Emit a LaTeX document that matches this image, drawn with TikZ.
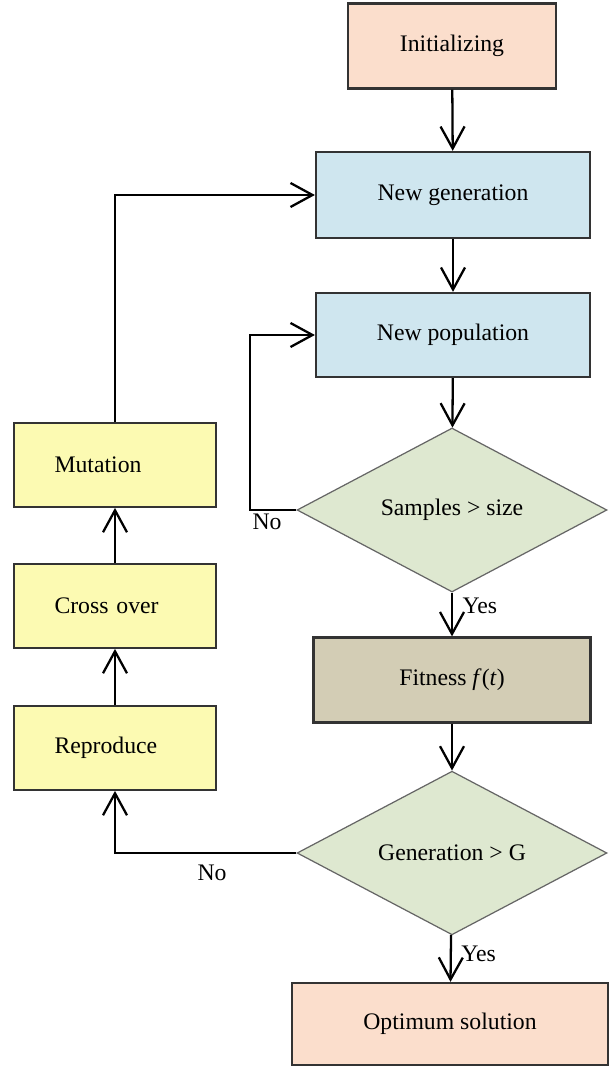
\documentclass[tikz,border=0pt]{standalone}
\usepackage{fontspec}
\setmainfont{Liberation Serif}
\usepackage{xcolor}
\usetikzlibrary{arrows.meta,positioning,shapes.geometric}

\definecolor{peach}{RGB}{251,222,204}
\definecolor{paleblue}{RGB}{207,230,239}
\definecolor{palegreen}{RGB}{222,232,208}
\definecolor{khaki}{RGB}{211,205,181}
\definecolor{paleyellow}{RGB}{252,250,178}

\tikzset{
  box/.style={draw=black!80,line width=1.3pt,inner sep=0pt,minimum height=1.7cm},
  endbox/.style={box,fill=peach},
  genbox/.style={box,fill=paleblue,minimum width=5.48cm},
  fitbox/.style={box,fill=khaki,minimum width=5.54cm},
  opbox/.style={box,fill=paleyellow,minimum width=4.04cm,minimum height=1.67cm,
    text width=2.42cm,align=left,inner xsep=0.81cm},
  decide/.style={diamond,draw=black!60,line width=0.7pt,fill=palegreen,inner sep=0pt,
    minimum width=6.2cm},
  flow/.style={->,line width=1.3pt,>={Straight Barb[length=4.4mm,width=4.8mm]}}
}

\begin{document}
\begin{tikzpicture}[x=0.02cm,y=-0.02cm,font=\fontsize{13.5}{16}\selectfont]
\useasboundingbox (0,0) rectangle (610,1070);
% main column
\node[endbox,minimum width=4.16cm] (init) at (452,46) {Initializing};
\node[genbox,minimum height=1.72cm] (newgen) at (453,195) {New generation};
\node[genbox,minimum height=1.68cm] (newpop) at (453,335) {New population};
\node[decide,minimum height=3.02cm] (samples) at (452,510) {Samples > size};
\node[fitbox] (fit) at (452,680) {Fitness \textit{f}(\textit{t})};
\node[decide,minimum height=2.88cm] (gen) at (452,853) {Generation > G};
\node[endbox,minimum width=6.32cm,minimum height=1.64cm] (opt) at (450,1024) {Optimum solution};
% genetic operators
\node[opbox] (mut) at (115,465) {Mutation};
\node[opbox] (cross) at (115,606) {Cross over};
\node[opbox] (repro) at (115,748) {Reproduce};
\coordinate (c1) at (250,510);
\coordinate (c2) at (250,335);
\coordinate (c3) at (115,853);
\coordinate (c4) at (115,195);

\path[flow] (init) edge (newgen);
\path[flow] (newgen) edge (newpop);
\path[flow] (newpop) edge (samples);
\path[flow] (samples) edge node[right=2pt,pos=0.3]{Yes} (fit);
\path[flow] (fit) edge (gen);
\path[flow] (gen) edge node[right=2pt,pos=0.4]{Yes} (opt);
\draw[flow] (samples.west) -- (c1) -- (c2) -- (newpop.west);
\node at (267,522) {No};
\draw[flow] (gen.west) -- (c3) -- (repro.south);
\node at (212,873) {No};
\path[flow] (repro) edge (cross);
\path[flow] (cross) edge (mut);
\draw[flow] (mut.north) -- (c4) -- (newgen.west);
\end{tikzpicture}
\end{document}
